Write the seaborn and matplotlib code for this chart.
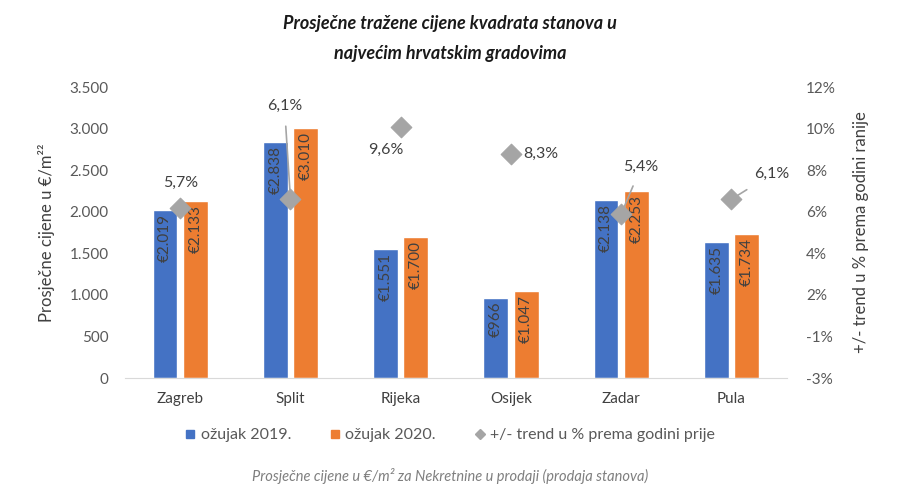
"""
Prosjecne trazene cijene kvadrata stanova - grouped bars with trend markers.
"""
import numpy as np
import pandas as pd
import seaborn as sns
from matplotlib import pyplot as plt
from matplotlib.lines import Line2D
from matplotlib.ticker import FuncFormatter, FixedLocator

# data
CITIES = ['Zagreb', 'Split', 'Rijeka', 'Osijek', 'Zadar', 'Pula']
PRICE_2019 = [2019, 2838, 1551, 966, 2138, 1635]
PRICE_2020 = [2133, 3010, 1700, 1047, 2253, 1734]
TREND_PCT = [5.7, 6.1, 9.6, 8.3, 5.4, 6.1]
SERIES = ['ožujak 2019.', 'ožujak 2020.']
TREND_NAME = '+/- trend u % prema godini prije'

# label offsets (pixels, y up) for the trend labels
LABEL_OFFSETS = [(0, 25), (-6, 93), (-15, -23), (12, 0), (20, 47), (40, 25)]
LEADER = [True, True, True, False, True, True]

BLUE = '#4472C4'
ORANGE = '#ED7D31'
GREY = '#A5A5A5'
TEXT = '#595959'
FONT = ['Lato', 'DejaVu Sans']

sns.set_style('white')
plt.rcParams['font.family'] = FONT

df = pd.DataFrame({
    'grad': CITIES * 2,
    'cijena': PRICE_2019 + PRICE_2020,
    'serija': [SERIES[0]] * len(CITIES) + [SERIES[1]] * len(CITIES),
})

fig = plt.figure(figsize=(9, 4.88), dpi=100)
ax = fig.add_axes([0.139, 0.2254, 0.735, 0.5963])

sns.barplot(data=df, x='grad', y='cijena', hue='serija',
            palette=[BLUE, ORANGE], width=0.55, gap=0.18, ax=ax,
            legend=False, saturation=1)

ax.set_xlim(-0.5, len(CITIES) - 0.5)
ax.set_ylim(0, 3500)
ax.yaxis.set_major_locator(FixedLocator(np.arange(0, 3501, 500)))
ax.yaxis.set_major_formatter(
    FuncFormatter(lambda v, p: f'{int(v):,}'.replace(',', '.')))
ax.tick_params(axis='y', length=0, pad=12, labelsize=11, labelcolor=TEXT)
ax.tick_params(axis='x', length=0, pad=10, labelsize=11, labelcolor='#404040')
ax.set_xlabel('')
ax.set_ylabel('Prosječne cijene u €/m²²', fontsize=12, color='#404040',
              labelpad=10)
for side in ['top', 'right', 'left']:
    ax.spines[side].set_visible(False)
ax.spines['bottom'].set_color('#D9D9D9')

# value labels inside the top of each bar
for cont in ax.containers:
    for rect in cont:
        h = rect.get_height()
        ax.text(rect.get_x() + rect.get_width() / 2, h - 50,
                '€' + f'{int(h):,}'.replace(',', '.'),
                rotation=90, ha='center', va='top', fontsize=11,
                color='#404040')

# trend on secondary axis
ax2 = ax.twinx()
sns.scatterplot(x=np.arange(len(CITIES)), y=TREND_PCT, marker='D', s=110,
                color=GREY, edgecolor=GREY, ax=ax2, zorder=5)
ax2.set_ylim(-2.5, 11.5)
ax2.yaxis.set_major_locator(FixedLocator(np.arange(-2.5, 11.6, 2)))
ax2.yaxis.set_major_formatter(
    FuncFormatter(lambda v, p: f'{int(np.sign(v) * np.floor(abs(v) + 0.5))}%'))
ax2.tick_params(axis='y', length=0, pad=14, labelsize=11, labelcolor=TEXT)
ax2.set_ylabel('+/- trend u % prema godini ranije', fontsize=12,
               color='#404040', labelpad=12)
for side in ['top', 'right', 'left', 'bottom']:
    ax2.spines[side].set_visible(False)

for i, (val, off, lead) in enumerate(zip(TREND_PCT, LABEL_OFFSETS, LEADER)):
    props = dict(arrowstyle='-', color=GREY, lw=1.2, shrinkA=7,
                 shrinkB=4) if lead else None
    ax2.annotate(f'{val:.1f}%'.replace('.', ','), xy=(i, val),
                 xytext=off, textcoords='offset pixels',
                 ha='left' if not lead else 'center', va='center',
                 fontsize=11.5, color='#404040', arrowprops=props)

# legend
handles = [
    Line2D([], [], marker='s', ls='', color=BLUE, markersize=6),
    Line2D([], [], marker='s', ls='', color=ORANGE, markersize=6),
    Line2D([], [], marker='D', ls='', color=GREY, markersize=5),
]
fig.legend(handles, SERIES + [TREND_NAME], loc='center',
           bbox_to_anchor=(0.5, 0.108), ncol=3, frameon=False, fontsize=11.5,
           labelcolor=TEXT, handlelength=0.7, handletextpad=0.3,
           columnspacing=2.4)

fig.text(0.5, 0.951, 'Prosječne tražene cijene kvadrata stanova u',
         ha='center', va='center', fontsize=13, fontweight='bold',
         style='italic', color='#1a1a1a')
fig.text(0.5, 0.891, 'najvećim hrvatskim gradovima',
         ha='center', va='center', fontsize=13, fontweight='bold',
         style='italic', color='#1a1a1a')
fig.text(0.5, 0.025,
         'Prosječne cijene u €/m² za Nekretnine u prodaji (prodaja stanova)',
         ha='center', va='center', fontsize=10.5, style='italic',
         color='#7F7F7F')

plt.savefig('out.png', dpi=100)
